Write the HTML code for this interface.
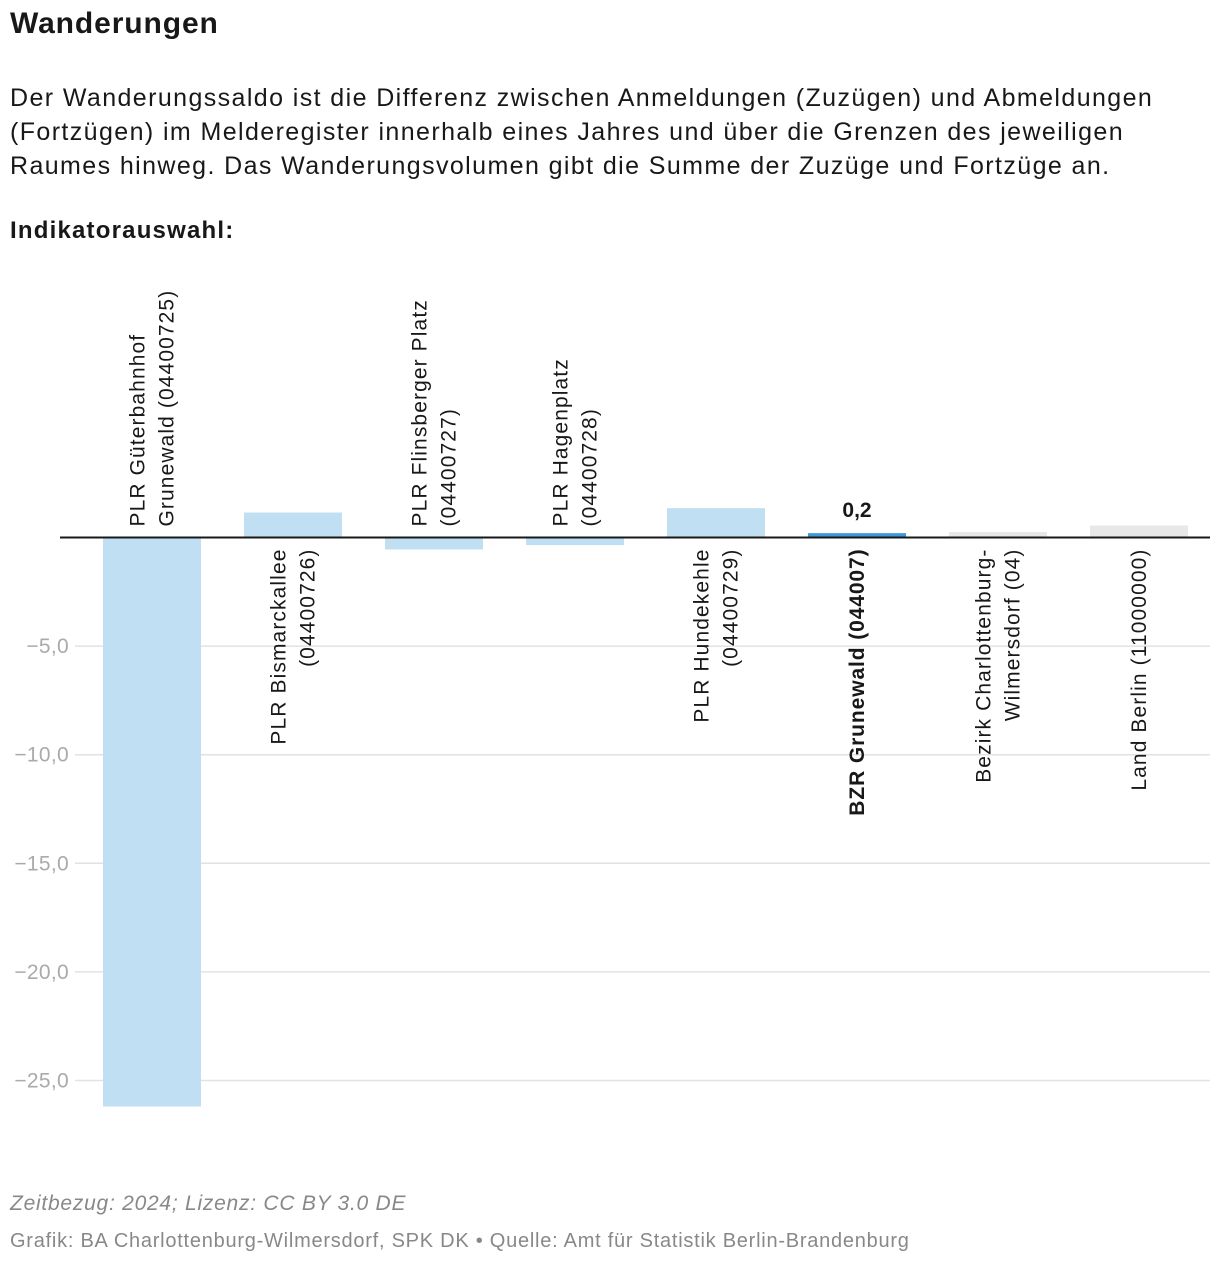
<!DOCTYPE html>
<html><head><meta charset="utf-8"><style>
body{margin:0;background:#fff;font-family:"Liberation Sans",Arial,sans-serif;color:#181818;width:1220px;height:1266px;overflow:hidden}
h1{position:absolute;left:10px;top:7px;margin:0;font-size:30px;font-weight:bold;letter-spacing:0.9px}
.desc{position:absolute;left:10px;top:81px;font-size:25px;line-height:34px;width:1210px;white-space:nowrap;letter-spacing:1.4px}
.sel{position:absolute;left:10px;top:217px;font-size:24px;font-weight:bold;letter-spacing:1.2px}
.f1{position:absolute;left:10px;top:1192px;font-size:21px;font-style:italic;color:#888;letter-spacing:0.75px}
.f2{position:absolute;left:10px;top:1230px;font-size:20px;color:#888;letter-spacing:0.75px}
svg{position:absolute;left:0;top:0}
</style></head><body>
<h1>Wanderungen</h1>
<div class="desc">Der Wanderungssaldo ist die Differenz zwischen Anmeldungen (Zuzügen) und Abmeldungen<br>(Fortzügen) im Melderegister innerhalb eines Jahres und über die Grenzen des jeweiligen<br>Raumes hinweg. Das Wanderungsvolumen gibt die Summe der Zuzüge und Fortzüge an.</div>
<div class="sel">Indikatorauswahl:</div>
<svg id="chart" width="1220" height="1266"></svg>
<div class="f1">Zeitbezug: 2024; Lizenz: CC BY 3.0 DE</div>
<div class="f2">Grafik: BA Charlottenburg-Wilmersdorf, SPK DK • Quelle: Amt für Statistik Berlin-Brandenburg</div>
<script>
const categories=[["PLR Güterbahnhof","Grunewald (04400725)"],["PLR Bismarckallee","(04400726)"],["PLR Flinsberger Platz","(04400727)"],["PLR Hagenplatz","(04400728)"],["PLR Hundekehle","(04400729)"],["BZR Grunewald (044007)"],["Bezirk Charlottenburg-","Wilmersdorf (04)"],["Land Berlin (11000000)"]];
const values=[-26.2,1.15,-0.55,-0.35,1.35,0.2,0.25,0.55];
const colors=["#c0dff2","#c0dff2","#c0dff2","#c0dff2","#c0dff2","#3e99d8","#e8e8e8","#e8e8e8"];
const ticks=[-5,-10,-15,-20,-25];
const tickLabels=["−5,0","−10,0","−15,0","−20,0","−25,0"];
const highlightIndex=5;
const highlightLabel="0,2";
const NS="http://www.w3.org/2000/svg";
const svg=document.getElementById('chart');
const y0=537.5,pxPerUnit=21.72;
const y=v=>y0-v*pxPerUnit;
const x0=103,step=141,bw=98;
const x=i=>x0+i*step;
function mk(t,a){const e=document.createElementNS(NS,t);for(const k in a)e.setAttribute(k,a[k]);svg.appendChild(e);return e;}
ticks.forEach((t,i)=>{
 const g=mk('line',{x1:75,x2:1210,y1:y(t),y2:y(t),stroke:'#e2e2e2','stroke-width':1.5});
 
 
 const l=mk('text',{x:69,y:y(t)+7,'text-anchor':'end','font-size':21,fill:'#aaa','letter-spacing':0.3});
 l.textContent=tickLabels[i];
 
 
});
values.forEach((v,i)=>{
 const top=Math.min(y(v),y0),h=Math.abs(y(v)-y0);
 const r=mk('rect',{x:x(i),y:top,width:bw,height:h,fill:colors[i]});
 
 
 const cx=x(i)+bw/2,lines=categories[i],n=lines.length,lh=29;
 const above=v<0;
 const ly=above?y0-11:y0+11;
 lines.forEach((s,j)=>{
  const lx=cx-(n-1)*lh/2+j*lh+7;
  const t=mk('text',{x:0,y:0,transform:`translate(${lx},${ly}) rotate(-90)`,'text-anchor':above?'start':'end','font-size':21,'letter-spacing':i===highlightIndex?0.9:1.1,fill:'#181818','font-weight':i===highlightIndex?'bold':'normal'});
  t.textContent=s;
  
  
 });
});
const vl=mk('text',{x:x(highlightIndex)+bw/2,y:y(values[highlightIndex])-16,'text-anchor':'middle','font-size':21,'font-weight':'bold',fill:'#181818'});
vl.textContent=highlightLabel;


const z=mk('line',{x1:60,x2:1210,y1:y0,y2:y0,stroke:'#181818','stroke-width':2});


</script>
</body></html>
